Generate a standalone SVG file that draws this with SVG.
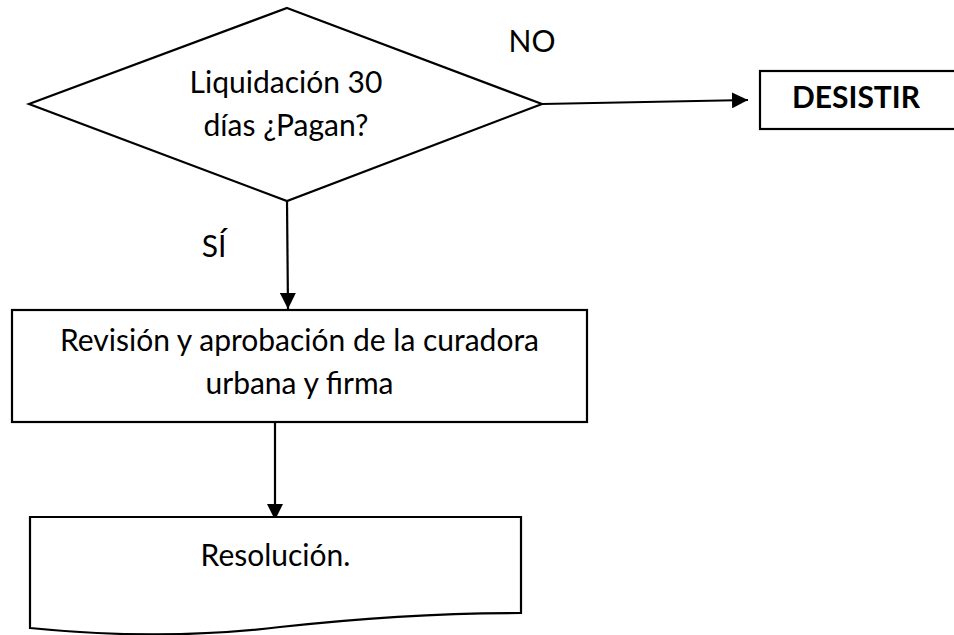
<svg xmlns="http://www.w3.org/2000/svg" width="954" height="635" viewBox="0 0 954 635">
<style>
.shape{fill:#ffffff;stroke:#000000;stroke-width:2.2;stroke-linejoin:miter}
.conn{fill:none;stroke:#000000;stroke-width:2.2}
text{font-family:Lato,"Open Sans","Liberation Sans",sans-serif;font-size:30px;fill:#000000;text-anchor:middle}
.b{font-weight:bold}
</style>
<defs>
<marker id="arrow" viewBox="0 0 16 16" refX="16" refY="8" markerWidth="16" markerHeight="16" markerUnits="userSpaceOnUse" orient="auto">
<path d="M0,0 L16,8 L0,16 Z" fill="#000000"/>
</marker>
</defs>
<rect width="954" height="635" fill="#ffffff"/>
<g id="connectors">
<line class="conn" x1="542" y1="104" x2="748" y2="100" marker-end="url(#arrow)"/>
<line class="conn" x1="287" y1="201" x2="288" y2="309" marker-end="url(#arrow)"/>
<line class="conn" x1="275" y1="422" x2="275" y2="520" marker-end="url(#arrow)"/>
</g>
<g id="decision">
<polygon class="shape" points="287,8 542,104 287,201 29,104"/>
<text x="286" y="93">Liquidación 30</text>
<text x="286" y="136">días ¿Pagan?</text>
</g>
<g id="label-no">
<text x="532" y="52">NO</text>
</g>
<g id="label-si">
<text x="214" y="257">SÍ</text>
</g>
<g id="desistir">
<rect class="shape" x="760" y="71" width="210" height="58"/>
<text class="b" x="856" y="108">DESISTIR</text>
</g>
<g id="revision">
<rect class="shape" x="12" y="310" width="575" height="112"/>
<text x="299.5" y="351">Revisión y aprobación de la curadora</text>
<text x="299.5" y="394">urbana y firma</text>
</g>
<g id="resolucion">
<path class="shape" d="M521,613 L521,517 L30,517 L30,628 C110,636 190,638 280,627 C370,617 440,613 521,613 Z"/>
<text x="275.5" y="566">Resolución.</text>
</g>
</svg>
